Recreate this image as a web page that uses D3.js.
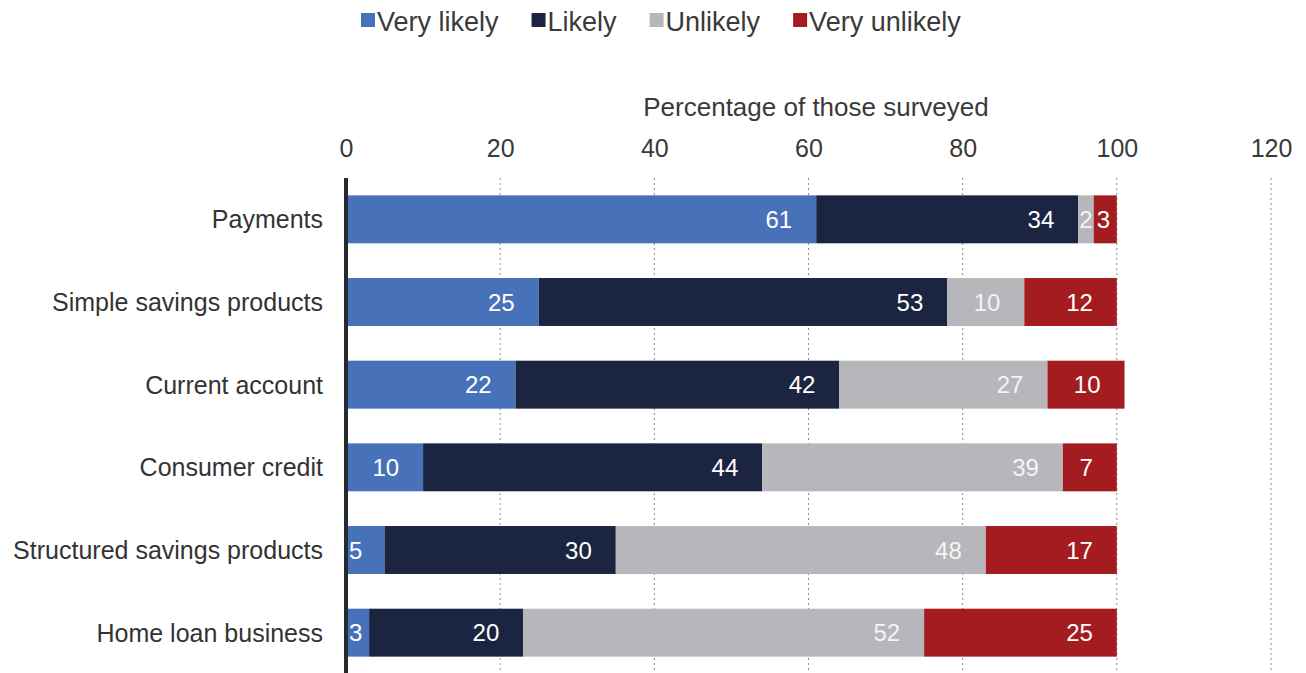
<!DOCTYPE html>
<html><head><meta charset="utf-8">
<script src="https://cdn.jsdelivr.net/npm/d3@7"></script>
<style>body{margin:0;background:#fff;}svg{display:block;font-family:"Liberation Sans",Arial,sans-serif;}</style>
</head><body><svg id="c" width="1306" height="673"></svg>
<script>
const categories = ["Payments","Simple savings products","Current account","Consumer credit","Structured savings products","Home loan business"];
const seriesNames = ["Very likely","Likely","Unlikely","Very unlikely"];
const veryLikely = [61,25,22,10,5,3];
const likely = [34,53,42,44,30,20];
const unlikely = [2,10,27,39,48,52];
const veryUnlikely = [3,12,10,7,17,25];
const tickValues = [0,20,40,60,80,100,120];
const colors = ["#4772b9","#1b2542","#b6b6bb","#a51c20"];
const axisTitle = "Percentage of those surveyed";

const series = [veryLikely, likely, unlikely, veryUnlikely];
const svg = d3.select("#c");
const x = d3.scaleLinear().domain([0,120]).range([346,1271]);
const y = d3.scaleBand().domain(categories).range([178,674]).paddingInner(0.42).paddingOuter(0.21);

// gridlines
svg.append("g").selectAll("line").data(tickValues.filter(d=>d>0)).join("line")
  .attr("x1",d=>x(d)).attr("x2",d=>x(d)).attr("y1",178).attr("y2",673)
  .attr("stroke","#8a8a8a").attr("stroke-width",1).attr("stroke-dasharray","2,3");

// top axis tick labels
const ax = svg.append("g").attr("transform","translate(0,157)")
  .call(d3.axisTop(x).tickValues(tickValues).tickSize(0).tickPadding(0).tickFormat(d3.format("d")));
ax.select(".domain").remove();
ax.selectAll("text").attr("font-size",25).attr("fill","#3a3a3a").attr("font-family","Liberation Sans, Arial, sans-serif");

svg.append("text").attr("x",816).attr("y",116).attr("text-anchor","middle")
  .attr("font-size",26).attr("fill","#3a3a3a").text(axisTitle);

// stacked bars
const stacked = categories.map((c,i)=>{
  let acc=0;
  return series.map((s,k)=>{const o={cat:c,k,v:s[i],x0:acc,x1:acc+s[i]};acc+=s[i];return o;});
}).flat();

const g = svg.append("g");
g.selectAll("rect").data(stacked).join("rect")
  .attr("x",d=>x(d.x0)).attr("width",d=>x(d.x1)-x(d.x0))
  .attr("y",d=>y(d.cat)).attr("height",y.bandwidth())
  .attr("fill",d=>colors[d.k]);

const lbl = g.selectAll("text.v").data(stacked).join("text").attr("class","v")
  .attr("y",d=>y(d.cat)+y.bandwidth()/2).attr("dy","0.36em")
  .attr("text-anchor","end").attr("font-size",24).attr("fill",d=>d.k===2?"#f4f4f4":"#fff")
  .text(d=>d.v);
lbl.each(function(d){
  const w=this.getComputedTextLength();
  const xe=x(d.x1), xs=x(d.x0);
  let r = xe-24;
  if (r < xs+w+3) r = xs+w+3;
  if (xe-xs < w+8) r = (xs+xe)/2 + w/2;
  d3.select(this).attr("x",r);
});

// axis line at zero
svg.append("line").attr("x1",x(0)).attr("x2",x(0)).attr("y1",178).attr("y2",673)
  .attr("stroke","#262a2e").attr("stroke-width",4);

// category labels
svg.append("g").selectAll("text").data(categories).join("text")
  .attr("x",323).attr("y",d=>y(d)+y.bandwidth()/2).attr("dy","0.36em")
  .attr("text-anchor","end").attr("font-size",25).attr("fill","#333").text(d=>d);

// legend
const lg = svg.append("g");
let lx = 361;
seriesNames.forEach((n,k)=>{
  lg.append("rect").attr("x",lx).attr("y",13).attr("width",14).attr("height",14).attr("fill",colors[k]);
  const t = lg.append("text").attr("x",lx+16).attr("y",31).attr("font-size",27).attr("fill","#3a3a3a").text(n);
  lx += 16 + t.node().getComputedTextLength() + 33;
});
</script></body></html>
